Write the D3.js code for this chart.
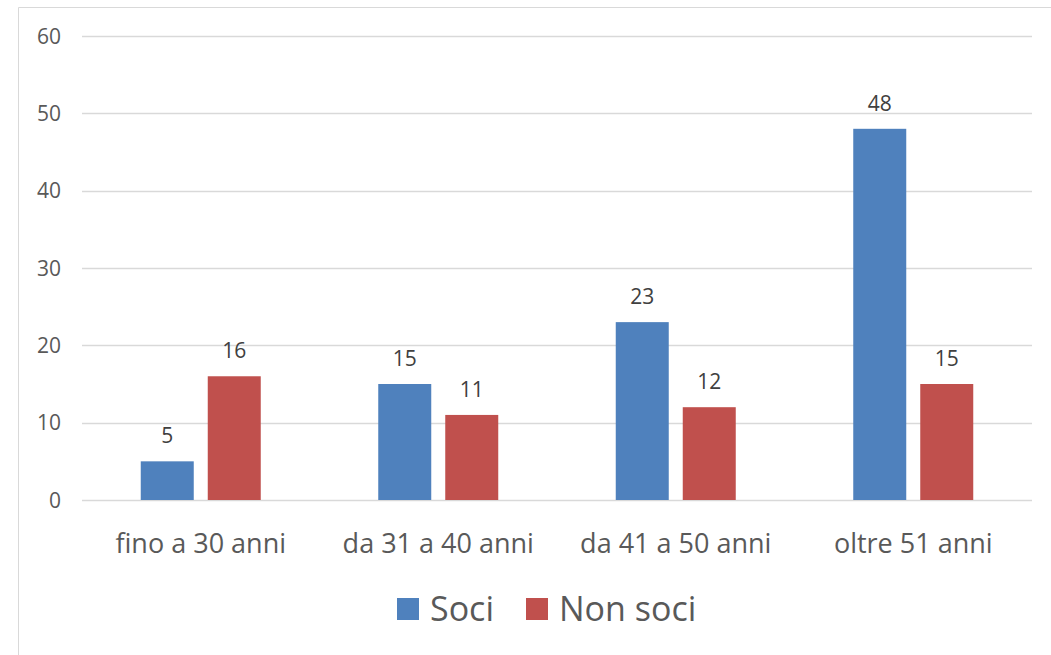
<!DOCTYPE html>
<html><head><meta charset="utf-8">
<script src="https://cdn.jsdelivr.net/npm/d3@7"></script>
<style>body{margin:0;background:#fff}svg{display:block}text{font-family:"Open Sans","Noto Sans",sans-serif;fill:#595959}</style>
</head><body><svg id="c" width="1051" height="655"></svg>
<script>
const categories = ["fino a 30 anni","da 31 a 40 anni","da 41 a 50 anni","oltre 51 anni"];
const seriesNames = ["Soci","Non soci"];
const soci = [5,15,23,48];
const nonSoci = [16,11,12,15];
const yTicks = [0,10,20,30,40,50,60];
const colors = ["#4F81BD","#C0504D"];

const svg = d3.select("#c");
svg.append("path").attr("d","M18.5,655 V7.5 H1051").attr("fill","none").attr("stroke","#D9D9D9").attr("stroke-width",1);

const x = d3.scaleBand().domain(categories).range([82,1032]);
const y = d3.scaleLinear().domain([0,60]).range([500,36]);

svg.append("g").selectAll("line").data(yTicks).join("line")
  .attr("x1",82).attr("x2",1032).attr("y1",d=>Math.round(y(d))+0.5).attr("y2",d=>Math.round(y(d))+0.5)
  .attr("stroke","#D9D9D9").attr("stroke-width",1.5);
svg.append("g").selectAll("text").data(yTicks).join("text")
  .attr("x",61).attr("y",d=>y(d)).attr("dy","0.36em").attr("text-anchor","end")
  .style("font-size","21px").text(d=>d);

const barW = 53, gap = 14;
const data = [soci, nonSoci];
data.forEach((vals,s)=>{
  const off = s===0 ? -gap/2-barW : gap/2;
  const g = svg.append("g");
  g.selectAll("rect").data(vals).join("rect")
    .attr("x",(d,i)=>x(categories[i])+x.bandwidth()/2+off)
    .attr("y",d=>y(d)).attr("width",barW).attr("height",d=>y(0)-y(d))
    .attr("fill",colors[s]);
  g.selectAll("text").data(vals).join("text")
    .attr("x",(d,i)=>x(categories[i])+x.bandwidth()/2+off+barW/2)
    .attr("y",d=>y(d)-18).attr("text-anchor","middle")
    .style("font-size","21px").style("fill","#404040").text(d=>d);
});

svg.append("g").selectAll("text").data(categories).join("text")
  .attr("x",d=>x(d)+x.bandwidth()/2).attr("y",553).attr("text-anchor","middle")
  .style("font-size","27px").text(d=>d);

const leg = [{n:seriesNames[0],x:397},{n:seriesNames[1],x:526}];
leg.forEach((l,i)=>{
  svg.append("rect").attr("x",l.x).attr("y",598).attr("width",22).attr("height",22).attr("fill",colors[i]);
  svg.append("text").attr("x",l.x+33).attr("y",621).style("font-size","34px").text(l.n);
});
</script></body></html>
